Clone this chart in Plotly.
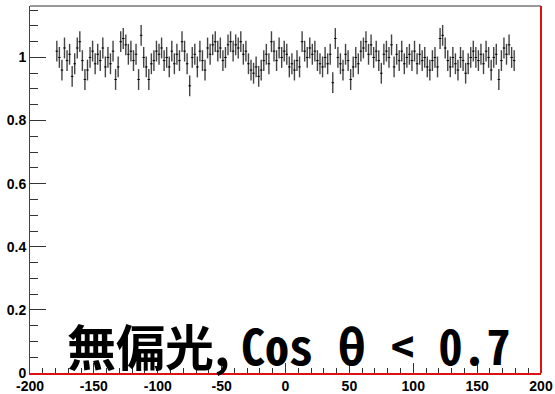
import plotly.graph_objects as go

# Bin centres (2-degree bins from -180 to 180)
bin_lo = -180
bin_width = 2
n_bins = 180
x_centers = [bin_lo + bin_width * (i + 0.5) for i in range(n_bins)]

# Ratio per bin
ratio = [
    1.02, 1.00, 0.96, 1.03, 0.99, 1.01, 0.94, 0.98, 1.03, 1.05,
    0.99, 0.93, 0.96, 1.00, 1.02, 0.98, 1.01, 0.99, 1.03, 0.97,
    1.00, 0.98, 1.02, 0.93, 0.97, 1.05, 1.06, 1.04, 1.01, 1.02,
    0.99, 1.01, 0.93, 1.07, 1.00, 0.97, 0.93, 0.98, 0.99, 1.02,
    1.01, 1.03, 0.99, 1.00, 0.97, 1.02, 0.98, 1.01, 0.99, 1.05,
    1.02, 0.98, 0.91, 1.00, 1.01, 0.97, 1.02, 0.99, 0.96, 1.03,
    1.01, 1.04, 1.05, 1.02, 1.03, 0.99, 1.00, 1.04, 1.05, 1.02,
    1.04, 1.03, 1.05, 1.01, 1.02, 0.98, 0.96, 0.95, 0.97, 0.94,
    0.96, 0.99, 1.01, 0.98, 1.05, 1.02, 0.99, 1.03, 1.00, 1.02,
    1.01, 0.97, 0.98, 0.96, 0.99, 0.97, 1.05, 1.02, 1.00, 1.03,
    1.01, 1.02, 0.99, 0.98, 0.97, 1.00, 0.98, 1.01, 0.92, 1.06,
    1.00, 0.98, 0.96, 1.01, 0.99, 0.93, 0.97, 1.00, 0.98, 1.02,
    1.03, 1.05, 1.01, 1.04, 1.00, 1.02, 0.99, 0.95, 1.01, 1.02,
    1.00, 1.04, 0.97, 1.01, 0.99, 1.02, 0.98, 1.00, 1.01, 0.99,
    1.02, 0.98, 1.01, 0.99, 1.00, 0.97, 0.96, 0.99, 1.00, 0.97,
    1.06, 1.07, 1.03, 0.99, 0.97, 1.00, 0.98, 0.96, 1.00, 0.99,
    0.95, 0.98, 1.00, 1.02, 1.00, 0.99, 1.01, 0.98, 1.02, 1.00,
    0.96, 1.00, 1.01, 0.93, 0.99, 1.03, 1.01, 1.04, 1.00, 0.99,
]
# Statistical uncertainty per bin
ratio_err = [0.033] * n_bins

x_ticks = [-200, -150, -100, -50, 0, 50, 100, 150, 200]
x_tick_text = ["-200", "-150", "-100", "-50", "0", "50", "100", "150", "200"]
y_ticks = [0, 0.2, 0.4, 0.6, 0.8, 1.0]
y_tick_text = ["0", "0.2", "0.4", "0.6", "0.8", "1"]

fig = go.Figure()
fig.add_trace(go.Scatter(
    x=x_centers,
    y=ratio,
    mode="markers",
    marker=dict(size=1, color="black"),
    error_y=dict(type="data", array=ratio_err, visible=True,
                 color="#444444", thickness=1.4, width=0),
    error_x=dict(type="constant", value=bin_width / 2, visible=True,
                 color="#111111", thickness=1, width=0),
    showlegend=False,
    hoverinfo="skip",
))

tick_font = dict(family="Liberation Sans", size=14, color="black", weight="bold")

fig.update_layout(
    width=555, height=394,
    margin=dict(l=30, r=14, t=6, b=21),
    paper_bgcolor="white",
    plot_bgcolor="white",
    showlegend=False,
    xaxis=dict(
        range=[-200, 200],
        tickvals=x_ticks, ticktext=x_tick_text,
        ticks="inside", ticklen=10, tickwidth=1, tickcolor="#333333",
        minor=dict(dtick=10, ticks="inside", ticklen=5, tickcolor="#333333"),
        showgrid=False, zeroline=False,
        showline=True, linecolor="#dd1111", linewidth=1.5,
        tickfont=tick_font, ticklabelstandoff=-1,
        automargin=False,
    ),
    yaxis=dict(
        range=[0, 1.163],
        tickvals=y_ticks, ticktext=y_tick_text,
        ticks="inside", ticklen=16, tickwidth=1, tickcolor="#333333",
        minor=dict(dtick=0.05, ticks="inside", ticklen=8, tickcolor="#333333"),
        showgrid=False, zeroline=False,
        showline=True, linecolor="#444444", linewidth=1,
        tickfont=tick_font,
        automargin=False,
    ),
    shapes=[
        dict(type="line", xref="paper", yref="paper", x0=0, x1=1, y0=1, y1=1,
             line=dict(color="#999999", width=2)),
        dict(type="line", xref="paper", yref="paper", x0=1, x1=1, y0=0, y1=1,
             line=dict(color="#dd1111", width=2)),
    ],
    annotations=[
        dict(text="<b>無偏光,</b>", xref="paper", yref="paper",
             x=0.068, y=0.078, xanchor="left", yanchor="middle",
             showarrow=False,
             font=dict(family="Noto Sans CJK JP", size=49, color="black")),
        dict(text="Cos θ < 0.7", xref="paper", yref="paper",
             x=0.945, y=0.08, xanchor="right", yanchor="middle",
             showarrow=False,
             font=dict(family="Noto Sans Mono CJK JP, Noto Sans CJK JP",
                       size=48, color="black", weight="bold")),
    ],
)

fig.write_html("out.html")
